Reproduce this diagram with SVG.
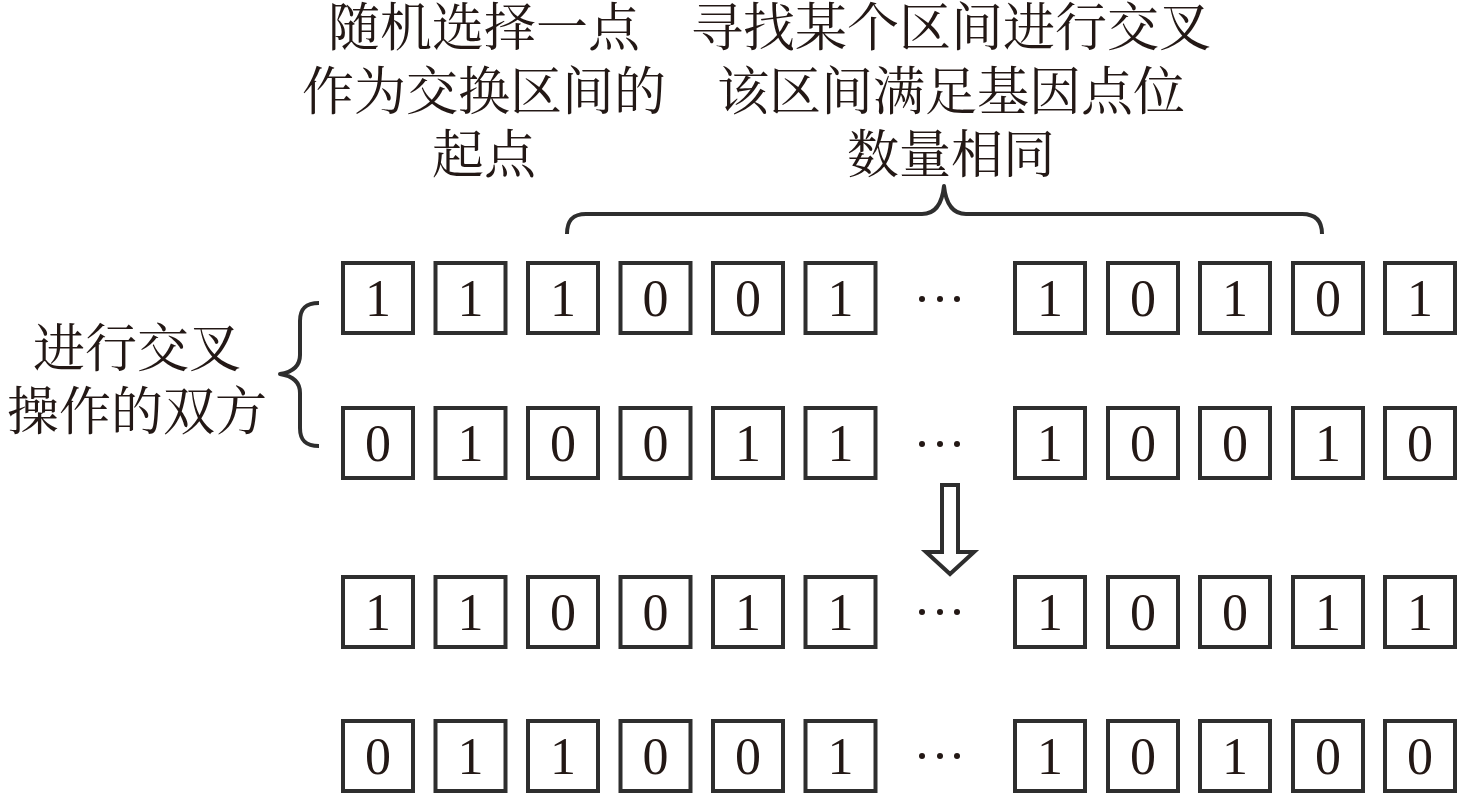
<svg xmlns="http://www.w3.org/2000/svg" width="1476" height="810" viewBox="0 0 1476 810">
<style>
.bx{fill:#ffffff;stroke:#2e2e2e;stroke-width:4}
.d{font-family:"Liberation Serif","Times New Roman",serif;font-size:52px;fill:#231815;text-anchor:middle}
.t{font-family:"Noto Serif CJK SC","Noto Sans CJK SC",serif;font-size:52px;fill:#231815;text-anchor:middle}
.ln{fill:none;stroke:#2e2e2e;stroke-width:4;stroke-linecap:butt;stroke-linejoin:round}
.dot{fill:#231815}
</style>
<rect x="0" y="0" width="1476" height="810" fill="#ffffff"/>
<g id="label-start">
<text class="t" x="484" y="46">随机选择一点</text>
<text class="t" x="484" y="110">作为交换区间的</text>
<text class="t" x="484" y="173">起点</text>
</g>
<g id="label-interval">
<text class="t" x="951" y="46">寻找某个区间进行交叉</text>
<text class="t" x="951" y="110">该区间满足基因点位</text>
<text class="t" x="951" y="173">数量相同</text>
</g>
<g id="label-parents">
<text class="t" x="137" y="367">进行交叉</text>
<text class="t" x="137" y="430">操作的双方</text>
</g>
<g id="connectors">
<path class="ln" d="M567,234 C567,221 572,214 586,214 L922,214 C935,214 942,205 944,186 C946,205 953,214 966,214 L1302,214 C1316,214 1322,221 1322,234"/>
<path class="ln" d="M319,303 C305,303 300,309 300,321 L300,355 C300,366 293,372 280,374 C293,376 300,382 300,393 L300,428 C300,440 305,446 319,446"/>
<path class="ln" style="stroke-linejoin:miter" d="M942,485 L958,485 L958,552 L974,552 L950,574 L926,552 L942,552 Z"/>
</g>
<g id="dots">
<circle class="dot" cx="922" cy="299" r="3"/><circle class="dot" cx="940" cy="299" r="3"/><circle class="dot" cx="957" cy="299" r="3"/>
<circle class="dot" cx="922" cy="444" r="3"/><circle class="dot" cx="940" cy="444" r="3"/><circle class="dot" cx="957" cy="444" r="3"/>
<circle class="dot" cx="922" cy="612" r="3"/><circle class="dot" cx="940" cy="612" r="3"/><circle class="dot" cx="957" cy="612" r="3"/>
<circle class="dot" cx="922" cy="756" r="3"/><circle class="dot" cx="940" cy="756" r="3"/><circle class="dot" cx="957" cy="756" r="3"/>
</g>
<!-- Row 1 -->
<g id="r1c1"><rect class="bx" x="343" y="263" width="70" height="70"/><text class="d" x="378" y="316">1</text></g>
<g id="r1c2"><rect class="bx" x="435.5" y="263" width="70" height="70"/><text class="d" x="470.5" y="316">1</text></g>
<g id="r1c3"><rect class="bx" x="528" y="263" width="70" height="70"/><text class="d" x="563" y="316">1</text></g>
<g id="r1c4"><rect class="bx" x="620.5" y="263" width="70" height="70"/><text class="d" x="655.5" y="316">0</text></g>
<g id="r1c5"><rect class="bx" x="713" y="263" width="70" height="70"/><text class="d" x="748" y="316">0</text></g>
<g id="r1c6"><rect class="bx" x="805.5" y="263" width="70" height="70"/><text class="d" x="840.5" y="316">1</text></g>
<g id="r1c7"><rect class="bx" x="1015" y="263" width="70" height="70"/><text class="d" x="1050" y="316">1</text></g>
<g id="r1c8"><rect class="bx" x="1108" y="263" width="70" height="70"/><text class="d" x="1143" y="316">0</text></g>
<g id="r1c9"><rect class="bx" x="1200" y="263" width="70" height="70"/><text class="d" x="1235" y="316">1</text></g>
<g id="r1c10"><rect class="bx" x="1293" y="263" width="70" height="70"/><text class="d" x="1328" y="316">0</text></g>
<g id="r1c11"><rect class="bx" x="1385" y="263" width="70" height="70"/><text class="d" x="1420" y="316">1</text></g>
<!-- Row 2 -->
<g id="r2c1"><rect class="bx" x="343" y="408" width="70" height="70"/><text class="d" x="378" y="461">0</text></g>
<g id="r2c2"><rect class="bx" x="435.5" y="408" width="70" height="70"/><text class="d" x="470.5" y="461">1</text></g>
<g id="r2c3"><rect class="bx" x="528" y="408" width="70" height="70"/><text class="d" x="563" y="461">0</text></g>
<g id="r2c4"><rect class="bx" x="620.5" y="408" width="70" height="70"/><text class="d" x="655.5" y="461">0</text></g>
<g id="r2c5"><rect class="bx" x="713" y="408" width="70" height="70"/><text class="d" x="748" y="461">1</text></g>
<g id="r2c6"><rect class="bx" x="805.5" y="408" width="70" height="70"/><text class="d" x="840.5" y="461">1</text></g>
<g id="r2c7"><rect class="bx" x="1015" y="408" width="70" height="70"/><text class="d" x="1050" y="461">1</text></g>
<g id="r2c8"><rect class="bx" x="1108" y="408" width="70" height="70"/><text class="d" x="1143" y="461">0</text></g>
<g id="r2c9"><rect class="bx" x="1200" y="408" width="70" height="70"/><text class="d" x="1235" y="461">0</text></g>
<g id="r2c10"><rect class="bx" x="1293" y="408" width="70" height="70"/><text class="d" x="1328" y="461">1</text></g>
<g id="r2c11"><rect class="bx" x="1385" y="408" width="70" height="70"/><text class="d" x="1420" y="461">0</text></g>
<!-- Row 3 -->
<g id="r3c1"><rect class="bx" x="343" y="577" width="70" height="70"/><text class="d" x="378" y="630">1</text></g>
<g id="r3c2"><rect class="bx" x="435.5" y="577" width="70" height="70"/><text class="d" x="470.5" y="630">1</text></g>
<g id="r3c3"><rect class="bx" x="528" y="577" width="70" height="70"/><text class="d" x="563" y="630">0</text></g>
<g id="r3c4"><rect class="bx" x="620.5" y="577" width="70" height="70"/><text class="d" x="655.5" y="630">0</text></g>
<g id="r3c5"><rect class="bx" x="713" y="577" width="70" height="70"/><text class="d" x="748" y="630">1</text></g>
<g id="r3c6"><rect class="bx" x="805.5" y="577" width="70" height="70"/><text class="d" x="840.5" y="630">1</text></g>
<g id="r3c7"><rect class="bx" x="1015" y="577" width="70" height="70"/><text class="d" x="1050" y="630">1</text></g>
<g id="r3c8"><rect class="bx" x="1108" y="577" width="70" height="70"/><text class="d" x="1143" y="630">0</text></g>
<g id="r3c9"><rect class="bx" x="1200" y="577" width="70" height="70"/><text class="d" x="1235" y="630">0</text></g>
<g id="r3c10"><rect class="bx" x="1293" y="577" width="70" height="70"/><text class="d" x="1328" y="630">1</text></g>
<g id="r3c11"><rect class="bx" x="1385" y="577" width="70" height="70"/><text class="d" x="1420" y="630">1</text></g>
<!-- Row 4 -->
<g id="r4c1"><rect class="bx" x="343" y="721" width="70" height="70"/><text class="d" x="378" y="774">0</text></g>
<g id="r4c2"><rect class="bx" x="435.5" y="721" width="70" height="70"/><text class="d" x="470.5" y="774">1</text></g>
<g id="r4c3"><rect class="bx" x="528" y="721" width="70" height="70"/><text class="d" x="563" y="774">1</text></g>
<g id="r4c4"><rect class="bx" x="620.5" y="721" width="70" height="70"/><text class="d" x="655.5" y="774">0</text></g>
<g id="r4c5"><rect class="bx" x="713" y="721" width="70" height="70"/><text class="d" x="748" y="774">0</text></g>
<g id="r4c6"><rect class="bx" x="805.5" y="721" width="70" height="70"/><text class="d" x="840.5" y="774">1</text></g>
<g id="r4c7"><rect class="bx" x="1015" y="721" width="70" height="70"/><text class="d" x="1050" y="774">1</text></g>
<g id="r4c8"><rect class="bx" x="1108" y="721" width="70" height="70"/><text class="d" x="1143" y="774">0</text></g>
<g id="r4c9"><rect class="bx" x="1200" y="721" width="70" height="70"/><text class="d" x="1235" y="774">1</text></g>
<g id="r4c10"><rect class="bx" x="1293" y="721" width="70" height="70"/><text class="d" x="1328" y="774">0</text></g>
<g id="r4c11"><rect class="bx" x="1385" y="721" width="70" height="70"/><text class="d" x="1420" y="774">0</text></g>
</svg>
